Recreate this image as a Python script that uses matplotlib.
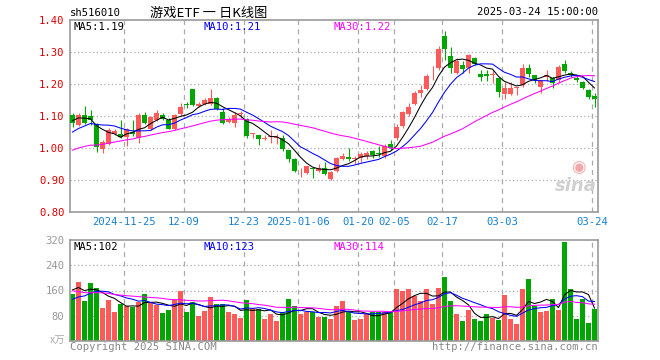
import numpy as np
import pandas as pd
import matplotlib
matplotlib.use("Agg")
import matplotlib.pyplot as plt

W, H = 660, 360
RED = "#ff5a5a"; GRN = "#00a600"; GRID = "#aaaaaa"; FRAME = "#9a9a9a"
BLUE_TXT = "#1580d0"; MA_COL = {5: "#000000", 10: "#0000ff", 30: "#ff00ff"}
MONO = "DejaVu Sans Mono"
CJK = ["Noto Sans CJK SC", "DejaVu Sans"]

# daily K data, 2024-11-12 .. 2025-03-24 (88 sessions)
opens = [1.103, 1.071, 1.103, 1.100, 1.074, 0.998, 1.014, 1.043, 1.043, 1.033,
         1.050, 1.030, 1.103, 1.058, 1.089, 1.103, 1.087, 1.059, 1.105, 1.136,
         1.183, 1.131, 1.139, 1.139, 1.155, 1.113, 1.082, 1.079, 1.106, 1.092,
         1.045, 1.040, 1.029, 1.033, 1.032, 1.032, 0.993, 0.965, 0.927, 0.922,
         0.937, 0.929, 0.936, 0.903, 0.927, 0.967, 0.972, 0.966, 0.969, 0.975,
         0.990, 0.985, 0.975, 1.012, 1.030, 1.069, 1.105, 1.139, 1.172, 1.183,
         1.236, 1.251, 1.350, 1.287, 1.233, 1.259, 1.251, 1.281, 1.231, 1.231,
         1.227, 1.220, 1.170, 1.170, 1.188, 1.197, 1.249, 1.228, 1.191, 1.221,
         1.220, 1.214, 1.264, 1.235, 1.220, 1.207, 1.181, 1.162]
highs = [1.108, 1.110, 1.130, 1.120, 1.078, 1.025, 1.063, 1.058, 1.088, 1.062,
         1.087, 1.108, 1.112, 1.100, 1.118, 1.108, 1.095, 1.107, 1.142, 1.145,
         1.185, 1.145, 1.155, 1.183, 1.160, 1.125, 1.098, 1.113, 1.115, 1.095,
         1.046, 1.042, 1.040, 1.056, 1.043, 1.040, 0.995, 0.968, 0.939, 0.945,
         0.940, 0.949, 0.957, 0.927, 0.972, 0.985, 1.000, 0.975, 0.986, 0.990,
         0.995, 1.007, 1.012, 1.024, 1.075, 1.115, 1.140, 1.178, 1.197, 1.230,
         1.257, 1.320, 1.365, 1.316, 1.280, 1.273, 1.293, 1.285, 1.243, 1.243,
         1.243, 1.222, 1.207, 1.207, 1.190, 1.264, 1.264, 1.228, 1.212, 1.243,
         1.222, 1.259, 1.275, 1.241, 1.228, 1.209, 1.183, 1.173]
lows = [1.066, 1.068, 1.075, 1.072, 0.988, 0.985, 1.010, 1.040, 1.030, 1.006,
        1.038, 1.016, 1.075, 1.055, 1.085, 1.088, 1.058, 1.056, 1.100, 1.125,
        1.130, 1.128, 1.135, 1.135, 1.118, 1.075, 1.078, 1.066, 1.095, 1.030,
        1.030, 1.009, 1.024, 1.016, 1.014, 0.991, 0.957, 0.925, 0.910, 0.918,
        0.907, 0.925, 0.915, 0.899, 0.925, 0.962, 0.959, 0.951, 0.956, 0.967,
        0.970, 0.972, 0.970, 0.995, 1.025, 1.062, 1.100, 1.135, 1.160, 1.180,
        1.212, 1.243, 1.275, 1.233, 1.230, 1.235, 1.233, 1.259, 1.210, 1.210,
        1.204, 1.160, 1.152, 1.165, 1.165, 1.191, 1.221, 1.202, 1.173, 1.210,
        1.189, 1.202, 1.233, 1.222, 1.207, 1.184, 1.153, 1.127]
closes = [1.077, 1.103, 1.077, 1.088, 1.004, 1.019, 1.056, 1.054, 1.033, 1.058,
          1.043, 1.103, 1.079, 1.097, 1.110, 1.092, 1.060, 1.103, 1.129, 1.133,
          1.134, 1.139, 1.150, 1.157, 1.121, 1.079, 1.092, 1.103, 1.108, 1.036,
          1.046, 1.029, 1.031, 1.037, 1.034, 0.998, 0.967, 0.928, 0.929, 0.943,
          0.935, 0.939, 0.918, 0.925, 0.969, 0.975, 0.967, 0.968, 0.980, 0.984,
          0.977, 0.980, 1.007, 1.000, 1.066, 1.111, 1.129, 1.172, 1.181, 1.226,
          1.238, 1.309, 1.309, 1.251, 1.273, 1.247, 1.290, 1.264, 1.223, 1.225,
          1.231, 1.176, 1.186, 1.186, 1.190, 1.249, 1.231, 1.214, 1.212, 1.228,
          1.204, 1.254, 1.241, 1.228, 1.212, 1.186, 1.160, 1.152]
volumes = [148, 187, 126, 184, 167, 104, 129, 91, 118, 110,
           108, 125, 148, 121, 114, 88, 97, 129, 158, 91,
           123, 78, 95, 139, 118, 118, 91, 86, 72, 129,
           106, 101, 70, 87, 62, 93, 132, 110, 84, 93,
           93, 76, 75, 70, 110, 127, 91, 65, 70, 84,
           91, 91, 91, 91, 164, 159, 164, 141, 127, 164,
           116, 167, 202, 127, 84, 62, 97, 69, 62, 84,
           74, 66, 145, 69, 53, 164, 196, 112, 92, 95,
           132, 97, 314, 164, 70, 132, 56, 100]
# sessions before the window (only feed the moving averages)
pre_close = [0.90, 0.93, 0.97, 0.99, 0.96, 0.94, 0.95, 0.93, 0.95, 0.97,
             0.96, 0.98, 0.97, 0.99, 0.98, 0.97, 0.99, 0.98, 1.00, 0.99,
             0.99, 1.00, 1.01, 1.03, 1.04, 1.06, 1.08, 1.10, 1.11]
pre_volume = [260, 230, 190, 150, 140, 170, 200, 180, 160, 150,
              170, 190, 160, 150, 140, 180, 170, 160, 150, 150,
              110, 95, 100, 105, 100, 150, 175, 160, 177]

tick_idx = [9, 19, 29, 38, 48, 54, 62, 72, 87]
tick_lbl = ["2024-11-25", "12-09", "12-23", "2025-01-06", "01-20",
            "02-05", "02-17", "03-03", "03-24"]
price_ticks = [0.80, 0.90, 1.00, 1.10, 1.20, 1.30, 1.40]
vol_ticks = [80, 160, 240, 320]


def ma(pre, vals, n):
    s = pd.Series(list(pre) + list(vals)).rolling(n).mean().values
    return s[len(pre):]


def fx(px): return px / W
def fy(py): return 1 - py / H


x = np.arange(len(closes))
o, h, l, c = map(np.array, (opens, highs, lows, closes))
cols = [RED if cc >= oo else GRN for oo, cc in zip(o, c)]

fig = plt.figure(figsize=(W / 100, H / 100), dpi=100)
fig.patch.set_facecolor("white")
ax1 = fig.add_axes([fx(70), fy(212), fx(528), 192 / H])
ax2 = fig.add_axes([fx(70), fy(341), fx(528), 101 / H])
xl = (-2.5 / 6, 528 / 6 - 2.5 / 6)

for ax in (ax1, ax2):
    ax.set_xlim(*xl)
    for sp in ax.spines.values():
        sp.set_color(FRAME); sp.set_linewidth(1.2)
    ax.tick_params(length=0, pad=4)
    ax.set_xticks([])
    for k in tick_idx:
        ax.axvline(k - 2.5 / 6, color=GRID, lw=0.9, ls=(0, (4, 3.5)), zorder=0)

# price panel
ax1.set_ylim(0.80, 1.40)
for v in price_ticks[1:-1]:
    ax1.axhline(v, color=GRID, lw=0.9, ls=(0, (1, 2)), zorder=0)
ax1.vlines(x, l, h, colors=cols, lw=0.8, zorder=2)
ax1.bar(x, np.maximum(np.abs(c - o), 0.0022), bottom=np.minimum(o, c),
        width=5 / 6, color=cols, lw=0, zorder=3)
for n in (5, 10, 30):
    ax1.plot(x, ma(pre_close, closes, n), color=MA_COL[n], lw=0.75, zorder=4)
ax1.set_yticks(price_ticks)
ax1.set_yticklabels([f"{v:.2f}" for v in price_ticks], color="#e00000",
                    family=MONO, fontsize=7.6)

# volume panel
ax2.set_ylim(0, 320)
for v in vol_ticks[:-1]:
    ax2.axhline(v, color=GRID, lw=0.9, ls=(0, (1, 2)), zorder=0)
ax2.bar(x, volumes, width=5 / 6, color=cols, lw=0, zorder=2)
for n in (5, 10, 30):
    ax2.plot(x, ma(pre_volume, volumes, n), color=MA_COL[n], lw=0.75, zorder=4)
ax2.set_yticks(vol_ticks)
ax2.set_yticklabels([str(v) for v in vol_ticks], color="#999999",
                    family=MONO, fontsize=7.6)

# date labels
for k, s in zip(tick_idx, tick_lbl):
    px = 72.5 + 6 * k - 2.5
    fig.text(fx(px), fy(222), s, color=BLUE_TXT, family=MONO, fontsize=7.6,
             ha="center", va="center")

# header texts
fig.text(fx(70), fy(13), "sh516010", family=MONO, fontsize=7.6, ha="left", va="center")
fig.text(fx(209), fy(13), "游戏ETF 一 日K线图", family=CJK, fontsize=9.5,
         ha="center", va="center")
fig.text(fx(598), fy(12), "2025-03-24 15:00:00", family=MONO, fontsize=7.6,
         ha="right", va="center")

# MA legends
for px, s, col in [(74, "MA5:1.19", MA_COL[5]), (204, "MA10:1.21", MA_COL[10]),
                   (334, "MA30:1.22", MA_COL[30])]:
    fig.text(fx(px), fy(27), s, color=col, family=MONO, fontsize=7.6, ha="left", va="center")
for px, s, col in [(74, "MA5:102", MA_COL[5]), (204, "MA10:123", MA_COL[10]),
                   (334, "MA30:114", MA_COL[30])]:
    fig.text(fx(px), fy(247), s, color=col, family=MONO, fontsize=7.6, ha="left", va="center")

fig.text(fx(65), fy(341), "x万", family=CJK, fontsize=7.5, color="#aaaaaa",
         ha="right", va="center")
fig.text(fx(70), fy(347), "Copyright 2025 SINA.COM", family=MONO, fontsize=7.6,
         color="#888888", ha="left", va="center")
fig.text(fx(598), fy(347), "http://finance.sina.com.cn", family=MONO, fontsize=7.6,
         color="#888888", ha="right", va="center")

# sina watermark
fig.text(fx(576), fy(186), "sina", fontsize=13, fontweight="bold", style="italic",
         color="#d0d0d0", ha="center", va="center")
fig.text(fx(578), fy(167), "◉", fontsize=12, color="#f2a8a8", ha="center", va="center")

fig.savefig("out.png", dpi=100, facecolor="white")
